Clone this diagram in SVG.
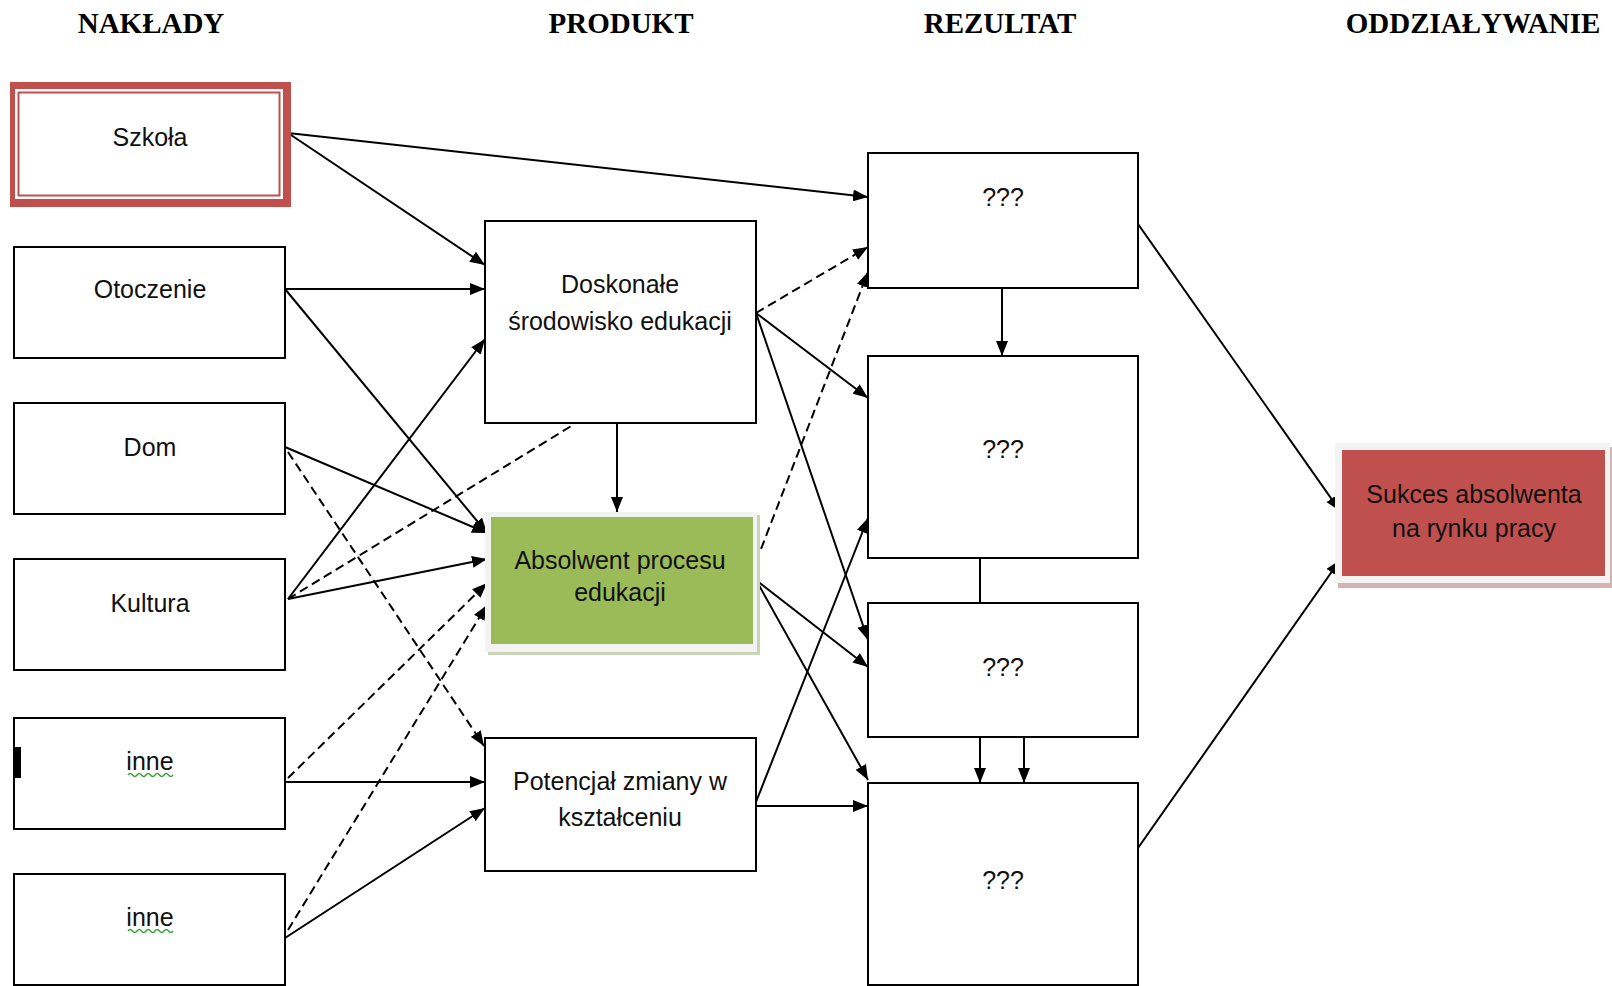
<svg xmlns="http://www.w3.org/2000/svg" width="1612" height="986" viewBox="0 0 1612 986">
<style>
.hdr{font-family:"Liberation Serif","Times New Roman",serif;font-weight:bold;font-size:29px;fill:#000;text-anchor:middle}
.lbl{font-family:"Liberation Sans",Arial,sans-serif;font-size:25px;fill:#111;text-anchor:middle}
.box{fill:#fff;stroke:#000;stroke-width:2}
.c{fill:none;stroke:#000;stroke-width:2}
.a{marker-end:url(#arr)}
.d{stroke-dasharray:9 5}
</style>
<defs>
<marker id="arr" markerUnits="userSpaceOnUse" markerWidth="15" markerHeight="12" refX="15" refY="6" orient="auto">
<path d="M0,0 L15,6 L0,12 z" fill="#000"/>
</marker>
</defs>
<g id="headers">
<text class="hdr" x="151" y="33">NAKŁADY</text>
<text class="hdr" x="621" y="33">PRODUKT</text>
<text class="hdr" x="1000" y="33">REZULTAT</text>
<text class="hdr" x="1473" y="33">ODDZIAŁYWANIE</text>
</g>
<g id="connectors">
<line class="c a" x1="288" y1="133" x2="868" y2="197"/>
<line class="c a" x1="288" y1="133" x2="485" y2="265"/>
<line class="c a" x1="285" y1="289" x2="485" y2="289"/>
<line class="c a" x1="285" y1="289" x2="487" y2="533"/>
<line class="c a" x1="285" y1="447" x2="487" y2="533"/>
<line class="c a" x1="288" y1="599" x2="485" y2="339"/>
<line class="c a" x1="288" y1="599" x2="487" y2="559"/>
<line class="c a" x1="285" y1="782" x2="485" y2="782"/>
<line class="c a" x1="285" y1="938" x2="485" y2="808"/>
<line class="c a" x1="617" y1="423" x2="617" y2="512"/>
<line class="c a" x1="756" y1="313" x2="868" y2="398"/>
<line class="c a" x1="756" y1="313" x2="868" y2="640"/>
<line class="c a" x1="756" y1="580" x2="868" y2="667"/>
<line class="c a" x1="756" y1="580" x2="868" y2="780"/>
<line class="c a" x1="756" y1="806" x2="868" y2="806"/>
<line class="c a" x1="756" y1="802" x2="868" y2="518"/>
<line class="c a" x1="1002" y1="288" x2="1002" y2="356"/>
<line class="c" x1="980" y1="558" x2="980" y2="603"/>
<line class="c a" x1="980" y1="737" x2="980" y2="783"/>
<line class="c a" x1="1024" y1="737" x2="1024" y2="783"/>
<line class="c a" x1="1138" y1="224" x2="1340" y2="511"/>
<line class="c a" x1="1138" y1="848" x2="1340" y2="560"/>
<line class="c d a" x1="756" y1="313" x2="868" y2="247"/>
<line class="c d a" x1="756" y1="562" x2="868" y2="272"/>
<line class="c d" x1="288" y1="599" x2="573" y2="425"/>
<line class="c d a" x1="288" y1="452" x2="484" y2="746"/>
<line class="c d a" x1="288" y1="778" x2="487" y2="583"/>
<line class="c d a" x1="288" y1="930" x2="487" y2="605"/>
</g>
<g id="n-szkola">
<rect x="10" y="82" width="281" height="125" fill="#C0504D"/>
<rect x="15" y="89" width="268" height="110" fill="#fff"/>
<rect x="18.5" y="92.5" width="261" height="103" fill="#fff" stroke="#C0504D" stroke-width="2"/>
<text class="lbl" x="150" y="146">Szkoła</text>
</g>
<g id="n-otoczenie">
<rect class="box" x="14" y="247" width="271" height="111"/>
<text class="lbl" x="150" y="298">Otoczenie</text>
</g>
<g id="n-dom">
<rect class="box" x="14" y="403" width="271" height="111"/>
<text class="lbl" x="150" y="456">Dom</text>
</g>
<g id="n-kultura">
<rect class="box" x="14" y="559" width="271" height="111"/>
<text class="lbl" x="150" y="612">Kultura</text>
</g>
<g id="n-inne1">
<rect class="box" x="14" y="718" width="271" height="111"/>
<rect x="15" y="747" width="6" height="31" fill="#000"/>
<text class="lbl" x="150" y="770">inne</text>
<path d="M128,775 q2.25,-3 4.5,0 t4.5,0 t4.5,0 t4.5,0 t4.5,0 t4.5,0 t4.5,0 t4.5,0 t4.5,0 t4.5,0" fill="none" stroke="#3aa23a" stroke-width="1.5"/>
</g>
<g id="n-inne2">
<rect class="box" x="14" y="874" width="271" height="111"/>
<text class="lbl" x="150" y="926">inne</text>
<path d="M128,931 q2.25,-3 4.5,0 t4.5,0 t4.5,0 t4.5,0 t4.5,0 t4.5,0 t4.5,0 t4.5,0 t4.5,0 t4.5,0" fill="none" stroke="#3aa23a" stroke-width="1.5"/>
</g>
<g id="n-doskonale">
<rect class="box" x="485" y="221" width="271" height="202"/>
<text class="lbl" x="620" y="293">Doskonałe</text>
<text class="lbl" x="620" y="330">środowisko edukacji</text>
</g>
<g id="n-absolwent">
<rect x="488" y="515" width="272" height="140" fill="#c9d3b8"/>
<rect x="485" y="512" width="272" height="140" fill="#f3f3f3"/>
<rect x="491" y="517" width="262" height="127" fill="#9BBB59"/>
<text class="lbl" x="620" y="569">Absolwent procesu</text>
<text class="lbl" x="620" y="601">edukacji</text>
</g>
<g id="n-potencjal">
<rect class="box" x="485" y="738" width="271" height="133"/>
<text class="lbl" x="620" y="790">Potencjał zmiany w</text>
<text class="lbl" x="620" y="826">kształceniu</text>
</g>
<g id="n-r1">
<rect class="box" x="868" y="153" width="270" height="135"/>
<text class="lbl" x="1003" y="206">???</text>
</g>
<g id="n-r2">
<rect class="box" x="868" y="356" width="270" height="202"/>
<text class="lbl" x="1003" y="458">???</text>
</g>
<g id="n-r3">
<rect class="box" x="868" y="603" width="270" height="134"/>
<text class="lbl" x="1003" y="676">???</text>
</g>
<g id="n-r4">
<rect class="box" x="868" y="783" width="270" height="202"/>
<text class="lbl" x="1003" y="889">???</text>
</g>
<g id="n-sukces">
<rect x="1338" y="447" width="274" height="141" fill="#d2b3b2"/>
<rect x="1335" y="443" width="275" height="140" fill="#f3f3f3"/>
<rect x="1342" y="450" width="263" height="126" fill="#C0504D"/>
<text class="lbl" x="1474" y="503">Sukces absolwenta</text>
<text class="lbl" x="1474" y="537">na rynku pracy</text>
</g>
</svg>
